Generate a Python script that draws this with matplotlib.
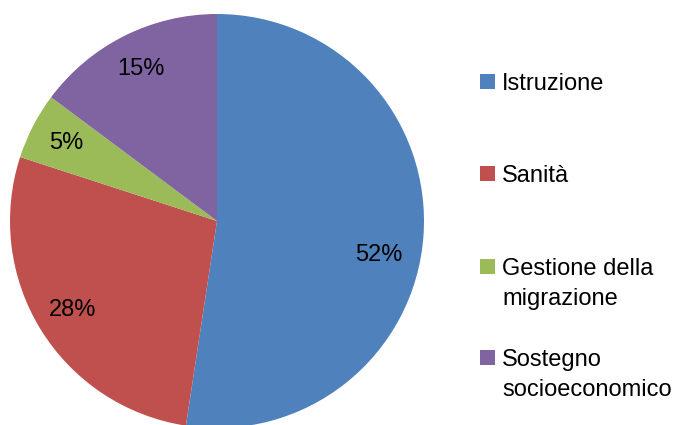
import matplotlib
matplotlib.use("Agg")
import matplotlib.pyplot as plt
import numpy as np
from matplotlib.patches import Rectangle

categories = ["Istruzione", "Sanità", "Gestione della\nmigrazione", "Sostegno\nsocioeconomico"]
values = [52.4, 27.6, 5.2, 14.8]
colors = ["#4F81BD", "#C0504D", "#9BBB59", "#8064A2"]

plt.rcParams['font.family'] = ['Liberation Sans', 'DejaVu Sans']
FS = 17

W, H = 679, 425
fig = plt.figure(figsize=(W / 100, H / 100), dpi=100)
R = 207
cx, cy = 217, 221
ax = fig.add_axes([(cx - R) / W, (H - cy - R) / H, 2 * R / W, 2 * R / H])
wedges, texts, autotexts = ax.pie(
    values, colors=colors, startangle=90, counterclock=False,
    autopct=lambda p: f"{p:.0f}%", pctdistance=0.82,
    wedgeprops=dict(linewidth=0),
    textprops=dict(fontsize=FS, color="black"))
# the first (large) label sits a bit lower than the wedge middle, as in the reference
w0 = wedges[0]
ang = np.deg2rad((w0.theta1 + w0.theta2) / 2 - 7.5)
autotexts[0].set_position((0.80 * np.cos(ang), 0.80 * np.sin(ang)))
ax.set_xlim(-1, 1)
ax.set_ylim(-1, 1)
ax.set_aspect('equal')
ax.axis('off')

# legend drawn manually
square_centers_y = [81.5, 173.5, 266.5, 357.5]
line_gap = 30
for lab, col, yc in zip(categories, colors, square_centers_y):
    fig.add_artist(Rectangle((480 / W, (H - yc - 7.5) / H), 15 / W, 15 / H,
                             transform=fig.transFigure, facecolor=col, edgecolor='none'))
    base = yc + 8.5
    for i, line in enumerate(lab.split("\n")):
        fig.text(502 / W, (H - base - i * line_gap) / H, line, fontsize=FS,
                 ha='left', va='baseline', color='black')

fig.savefig("out.png", dpi=100)
